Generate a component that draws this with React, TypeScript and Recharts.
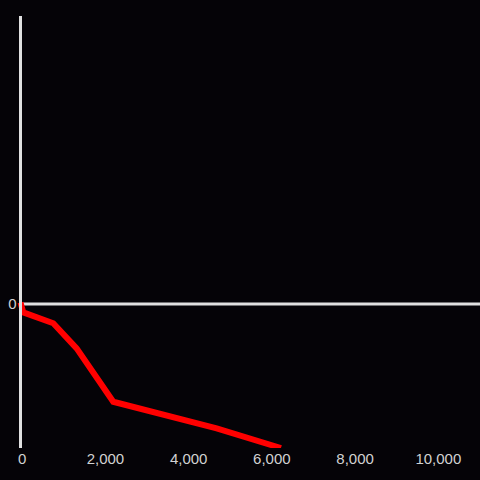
import { LineChart, Line, XAxis, YAxis, ReferenceLine } from "recharts";

const xValues = [-40, 26, 747, 1309, 2189, 4673, 6218];
const yValues = [1, -5.8, -13.4, -30.8, -67.9, -86.3, -100];
const xTicks = [0, 2000, 4000, 6000, 8000, 10000];
const yTicks = [0];

const data = xValues.map((x, i) => ({ x, y: yValues[i] }));

const AXIS = "#e0e0e0";
const TEXT = "#d2d2d2";
const tickStyle = { fill: TEXT, fontSize: 15, fontFamily: "Liberation Sans, Arial, sans-serif" };

export default function App() {
  return (
    <div style={{ position: "absolute", left: 0, top: 0, width: 480, height: 480, background: "#050307" }}>
      <LineChart width={480} height={480} data={data} margin={{ top: 16, right: 0, bottom: 0, left: 0 }}>
        <XAxis
          dataKey="x"
          type="number"
          domain={[-40, 11000]}
          ticks={xTicks}
          tickFormatter={(v) => Number(v).toLocaleString("en-US")}
          height={32}
          axisLine={false}
          tickLine={false}
          tickSize={0}
          tickMargin={5}
          tick={tickStyle}
          interval={0}
        />
        <YAxis
          type="number"
          domain={[-100, 200]}
          ticks={yTicks}
          width={20.5}
          allowDataOverflow
          axisLine={{ stroke: AXIS, strokeWidth: 3 }}
          tickLine={false}
          tickSize={0}
          tickMargin={4}
          tick={tickStyle}
        />
        <ReferenceLine y={0} stroke={AXIS} strokeWidth={3} />
        <Line
          dataKey="y"
          stroke="#ff0000"
          strokeWidth={6}
          dot={false}
          isAnimationActive={false}
          type="linear"
        />
      </LineChart>
    </div>
  );
}
